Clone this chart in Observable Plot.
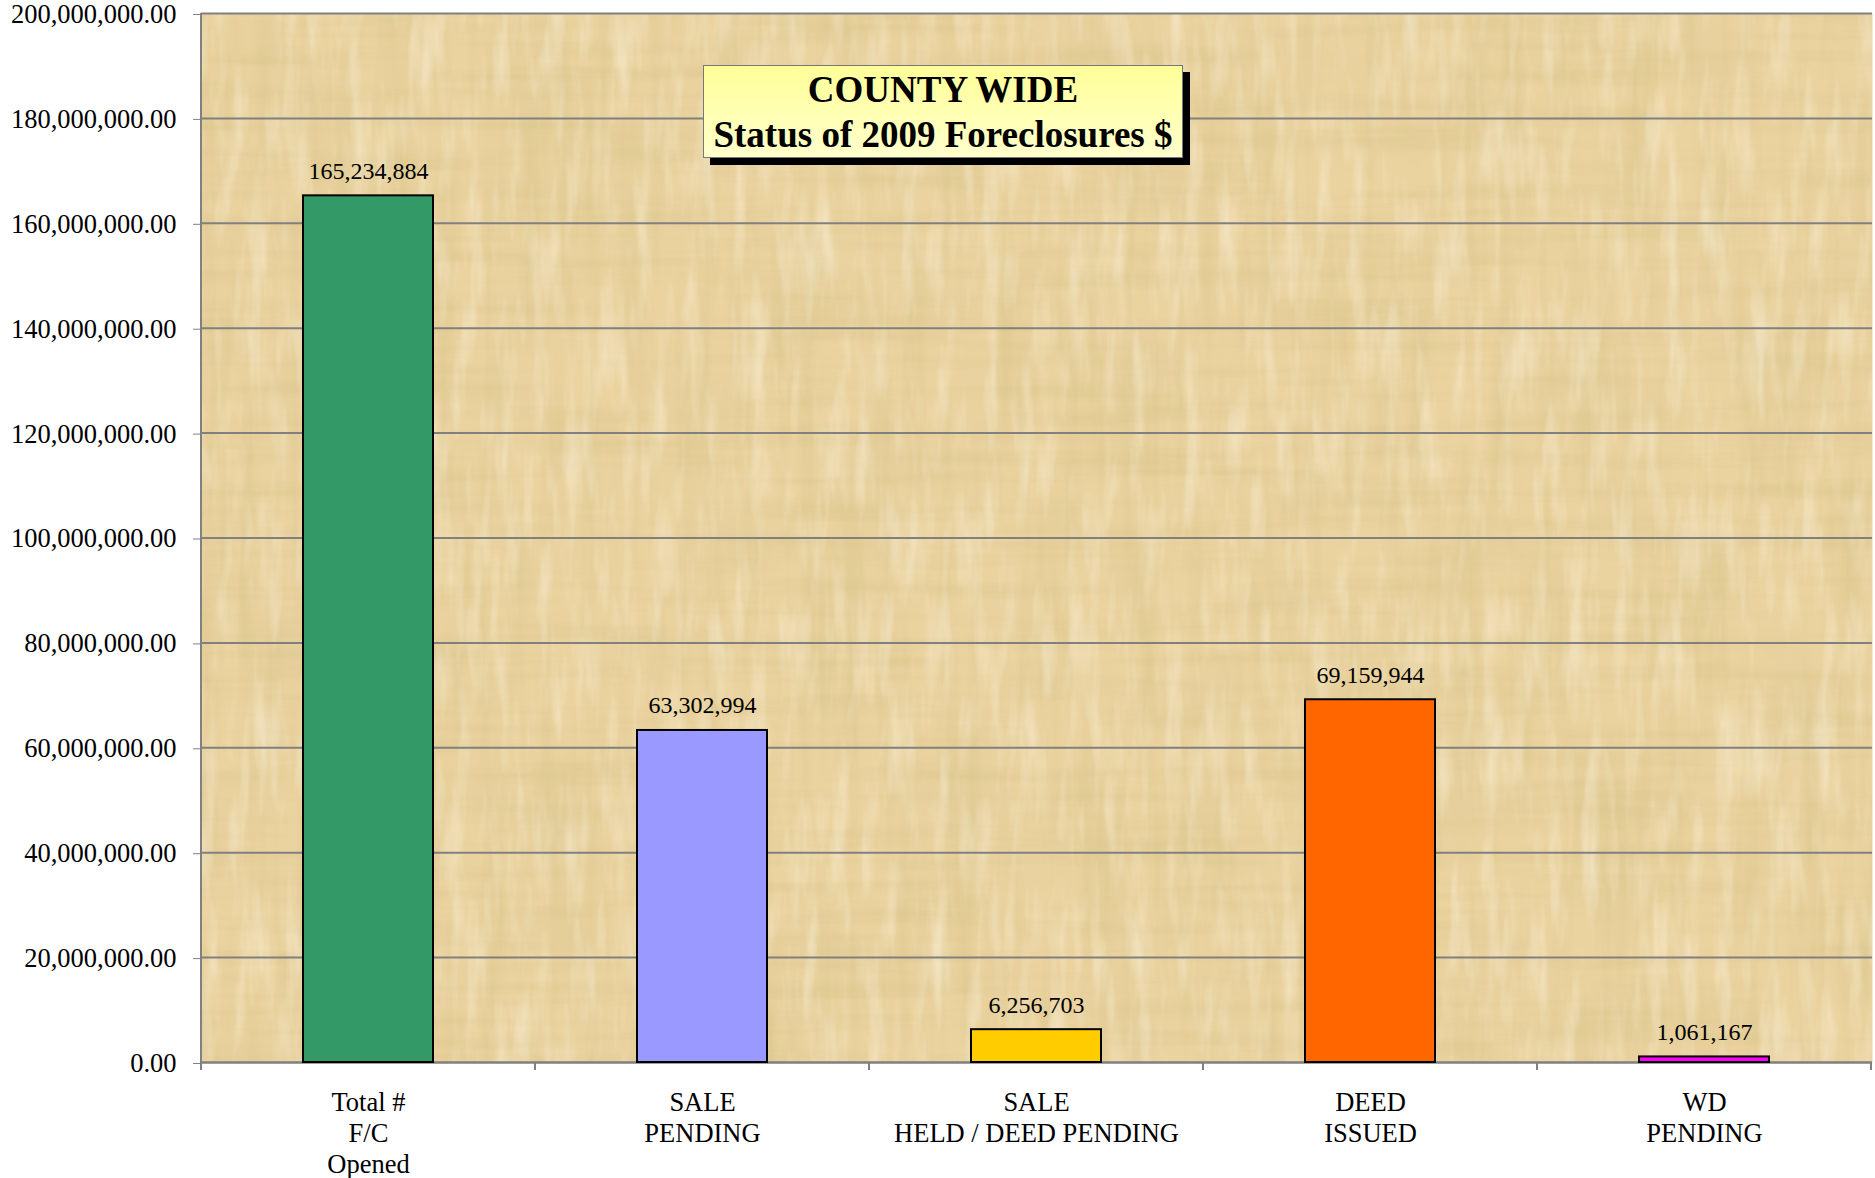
<!DOCTYPE html>
<html>
<head>
<meta charset="utf-8">
<script src="https://cdn.jsdelivr.net/npm/d3@7"></script>
<script src="https://cdn.jsdelivr.net/npm/@observablehq/plot@0.6"></script>
<style>
  html, body { margin: 0; padding: 0; background: white; }
  #wrap { position: relative; width: 1875px; height: 1178px; overflow: hidden; }
  #title {
    position: absolute; left: 703px; top: 65px; width: 480px; height: 93px;
    box-sizing: border-box; padding-top: 1px;
    border: 1px solid #777;
    background: linear-gradient(#FFFF99, #FFFFCC);
    box-shadow: 7px 7px 0 #000;
    font-family: "Liberation Serif", "Times New Roman", serif;
    font-weight: bold; font-size: 37px; line-height: 45px;
    text-align: center; color: #000;
  }
  svg [aria-label="y-axis tick"] { stroke: #808080; }
</style>
</head>
<body>
<div id="wrap">
  <div id="chart"></div>
  <div id="title">COUNTY WIDE<br>Status of 2009 Foreclosures $</div>
</div>
<script>
const categories = ["Total #\nF/C\nOpened", "SALE\nPENDING", "SALE\nHELD / DEED PENDING", "DEED\nISSUED", "WD\nPENDING"];
const values = [165234884, 63302994, 6256703, 69159944, 1061167];
const colors = ["#339966", "#9999FF", "#FFCC00", "#FF6600", "#FF00FF"];
const yTicks = [0, 20000000, 40000000, 60000000, 80000000, 100000000, 120000000, 140000000, 160000000, 180000000, 200000000];

const data = categories.map((c, i) => ({category: c, value: values[i], color: colors[i]}));

const plot = Plot.plot({
  width: 1875, height: 1178,
  marginLeft: 201, marginRight: 3, marginTop: 13, marginBottom: 116,
  style: {fontFamily: "'Liberation Serif', 'Times New Roman', serif", color: "black", background: "white"},
  x: {domain: categories, paddingInner: 0.61, paddingOuter: 0.305, label: null},
  y: {domain: [0, 200000000], label: null},
  color: {type: "identity"},
  marks: [
    Plot.frame({fill: "#EBD3A0", stroke: null}),
    Plot.gridY(yTicks, {stroke: "#808080", strokeOpacity: 1, strokeWidth: 2}),
    Plot.ruleY([0], {stroke: "#808080", strokeWidth: 2}),
    Plot.barY(data, {x: "category", y: "value", fill: "color", stroke: "black", strokeWidth: 2}),
    Plot.text(data, {x: "category", y: "value", text: d => d3.format(",")(d.value), dy: -17, lineAnchor: "bottom", fontSize: 24}),
    Plot.axisY(yTicks, {tickFormat: d3.format(",.2f"), tickSize: 8, tickPadding: 17, fontSize: 26.5, dy: 1}),
    Plot.axisX({tickSize: 0, tickPadding: 27, fontSize: 26.5, lineHeight: 1.16})
  ]
});
document.getElementById("chart").appendChild(plot);

// paper texture and axis decorations derived from the plot's scales
const svg = d3.select(plot);
const xs = plot.scale("x"), ys = plot.scale("y");
const x0 = xs.range[0], x1 = xs.range[1];
const yTop = ys.apply(200000000), yBot = ys.apply(0);

const defs = svg.insert("defs", ":first-child");
function paperFilter(id, freq, seed, rgb, k, off, oct) {
  const f = defs.append("filter").attr("id", id).attr("x", 0).attr("y", 0).attr("width", 1).attr("height", 1);
  f.append("feTurbulence").attr("type", "fractalNoise").attr("baseFrequency", freq).attr("numOctaves", oct).attr("seed", seed);
  f.append("feColorMatrix").attr("type", "matrix")
    .attr("values", `0 0 0 0 ${rgb[0]}  0 0 0 0 ${rgb[1]}  0 0 0 0 ${rgb[2]}  ${k} 0 0 0 ${off}`);
}
paperFilter("paperH", "0.004 0.06", 4, [0.70, 0.56, 0.26], 1.1, -0.47, 4);
paperFilter("paperV", "0.05 0.004", 23, [0.70, 0.56, 0.26], 1.1, -0.47, 4);
paperFilter("paperLight", "0.06 0.01", 11, [1, 0.96, 0.85], 0.9, -0.42, 3);
paperFilter("paperBlot", "0.012 0.012", 31, [0.72, 0.58, 0.30], 0.9, -0.40, 2);

const frameEl = svg.select('[aria-label="frame"]').node();
const after = frameEl ? frameEl.nextSibling : null;
["paperBlot", "paperH", "paperV", "paperLight"].forEach(id => {
  const r = document.createElementNS("http://www.w3.org/2000/svg", "rect");
  r.setAttribute("x", x0); r.setAttribute("y", yTop);
  r.setAttribute("width", x1 - x0); r.setAttribute("height", yBot - yTop);
  r.setAttribute("filter", `url(#${id})`);
  plot.insertBefore(r, after);
});

// left axis line
svg.append("line").attr("x1", x0).attr("x2", x0).attr("y1", yTop).attr("y2", yBot)
  .attr("stroke", "#808080").attr("stroke-width", 2);
// category boundary ticks below the baseline
const gap = (xs.step - xs.bandwidth) / 2;
const bounds = categories.map(c => xs.apply(c) - gap).concat([xs.apply(categories[categories.length - 1]) - gap + xs.step]);
svg.append("g").selectAll("line").data(bounds).join("line")
  .attr("x1", d => d).attr("x2", d => d).attr("y1", yBot).attr("y2", yBot + 8)
  .attr("stroke", "#808080").attr("stroke-width", 2);
</script>
</body>
</html>
